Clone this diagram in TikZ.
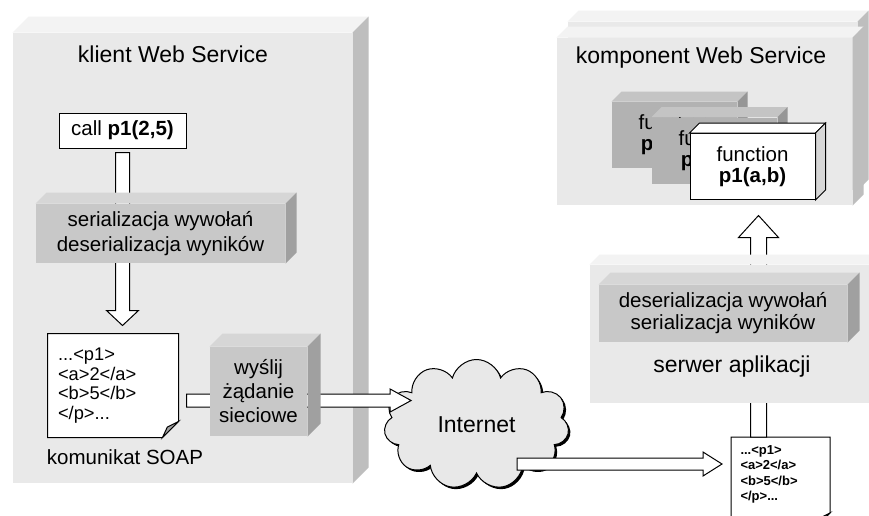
\documentclass[tikz,border=0pt]{standalone}
\usepackage{fontspec}
\setmainfont{Liberation Sans}
\usetikzlibrary{calc,shapes.symbols,shadows}
\definecolor{przod}{RGB}{233,233,233}
\definecolor{gora}{RGB}{243,243,243}
\definecolor{bok}{RGB}{190,190,190}
\definecolor{szary}{RGB}{200,200,200}
\definecolor{szaryGora}{RGB}{214,214,214}
\definecolor{szaryBok}{RGB}{160,160,160}
\definecolor{ciemny}{RGB}{178,178,178}
\definecolor{ciemnyGora}{RGB}{196,196,196}
\definecolor{ciemnyBok}{RGB}{150,150,150}
\definecolor{bialyBok}{RGB}{215,215,215}
\definecolor{chmurka}{RGB}{232,232,232}
% top and side face of a block drawn at node #1, depth #2
\newcommand\scianki[4]{%
  \path[#3] (#1.north west) -- ++(#2,-#2) -- ([shift={(#2,-#2)}]#1.north east) -- (#1.north east) -- cycle;
  \path[#4] (#1.north east) -- ++(#2,-#2) -- ([shift={(#2,-#2)}]#1.south east) -- (#1.south east) -- cycle;}
% block arrow from #1 to #2: half shaft, half head, head length
\newcommand\grubastrz[5]{%
  \coordinate (gs) at ($(#2)!#5pt!(#1)$);
  \filldraw[fill=white] ($(#1)!#3pt!90:(#2)$) -- ($(gs)!#3pt!90:(#2)$) -- ($(gs)!#4pt!90:(#2)$) -- (#2)
    -- ($(gs)!#4pt!-90:(#2)$) -- ($(gs)!#3pt!-90:(#2)$) -- ($(#1)!#3pt!-90:(#2)$) -- cycle;}
% page outline with folded corner
\newcommand\zagiecie[3]{%
  \fill[#3] ($(#1.south east)+(0,-#2)$) -- (#1.south east) -- ($(#1.south east)+(-#2,0)$) -- cycle;
  \draw (#1.north west) -- (#1.north east) -- ($(#1.south east)+(0,-#2)$) -- ($(#1.south east)+(-#2,0)$) -- (#1.south west) -- cycle;
  \filldraw[fill=szaryBok] ($(#1.south east)+(0,-#2)$) -- ($(#1.south east)+(-#2,0)$) -- ($(#1.south east)+(-0.7*#2,-0.65*#2)$) -- cycle;}
\begin{document}
\begin{tikzpicture}[x=1pt,y=-1pt,line width=1pt,
  duzy/.style={fill=przod, inner sep=0pt},
  szaryblok/.style={fill=szary, inner sep=0pt, align=center, font=\fontsize{20.5}{25}\selectfont},
  funblok/.style={fill=ciemny, inner sep=0pt, align=center, minimum width=125pt, minimum height=66pt, font=\fontsize{20.5}{21}\selectfont},
  tytul/.style={font=\fontsize{23}{27}\selectfont},
  napis/.style={font=\fontsize{20.5}{24}\selectfont},
  kartka/.style={fill=white, inner xsep=10pt, align=left}]
\clip (0,0) rectangle (869,515);
\fill[white] (0,0) rectangle (869,515);
% klient
\node[duzy, minimum width=339pt, minimum height=450pt] (klient) at (182.5,258) {};
\scianki{klient}{16}{fill=gora}{fill=bok}
\node[tytul] (klientT) at (173,54) {klient Web Service};
% komponent
\node[duzy, minimum width=289pt, minimum height=168pt] (komponentTyl) at (712.5,106) {};
\scianki{komponentTyl}{11}{fill=gora}{fill=bok}
\node[duzy, minimum width=295pt, minimum height=167pt] (komponent) at (704.5,121.5) {};
\scianki{komponent}{11}{fill=gora}{fill=bok}
\node[tytul] (komponentT) at (701,58) {komponent Web Service};
\node[funblok] (fun1) at (674.5,135) {function\\\textbf{p1(a,b)}};
\scianki{fun1}{10}{fill=ciemnyGora}{fill=ciemnyBok}
\node[funblok] (fun2) at (714.5,150.5) {function\\\textbf{p1(a,b)}};
\scianki{fun2}{10}{fill=ciemnyGora}{fill=ciemnyBok}
\node[funblok, fill=white, draw] (fun3) at (752.5,166.5) {function\\\textbf{p1(a,b)}};
\scianki{fun3}{10}{fill=white,draw}{fill=bialyBok,draw}
% serwer
\node[kartka, text width=80pt, inner xsep=9pt, minimum height=87pt, anchor=north west, font=\bfseries\fontsize{13}{15.5}\selectfont] (xml) at (731,437) {...<p1>\\<a>2</a>\\<b>5</b>\\</p>...\\\mbox{}};
\zagiecie{xml}{12}{white}
\coordinate (a4s) at ($(xml.north)+(-22,0)$);
\coordinate (a4k) at ($(a4s |- komponent.south)+(0,10)$);
\grubastrz{a4s}{a4k}{8}{20}{22}
\node[duzy, minimum width=290pt, minimum height=138pt] (serwer) at (735,334) {};
\scianki{serwer}{10}{fill=gora}{fill=bok}
\node[szaryblok, minimum width=248pt, minimum height=57pt, font=\fontsize{20.5}{22}\selectfont] (deser) at (723,313.5) {deserializacja wywołań\\serializacja wyników};
\scianki{deser}{12}{fill=szaryGora}{fill=szaryBok}
\node[tytul] (serwerT) at (732,367) {serwer aplikacji};
% klient: wywolanie i komunikat
\node[draw, fill=white, minimum width=127pt, minimum height=35pt, napis] (call) at (122.5,130.5) {call \textbf{p1(2,5)}};
\node[kartka, text width=110pt, minimum height=103pt, font=\fontsize{18.3}{19.7}\selectfont] (soap) at (113,385.5) {...<p1>\\<a>2</a>\\<b>5</b>\\</p>...};
\zagiecie{soap}{16}{przod}
\coordinate (a1s) at ($(call.south)+(0,4)$);
\coordinate (a1k) at ($(call.south |- soap.north)+(0,-8)$);
\grubastrz{a1s}{a1k}{7}{16}{15}
\node[szaryblok, minimum width=249pt, minimum height=59pt] (serial) at (160.5,233.5) {serializacja wywołań\\deserializacja wyników};
\scianki{serial}{11}{fill=szaryGora}{fill=szaryBok}
\node[napis] (soapT) at (125,457) {komunikat SOAP};
% internet
\node[cloud, cloud puffs=11, aspect=1.4, draw, fill=chmurka, drop shadow={shadow xshift=2pt, shadow yshift=-2pt, fill=black, opacity=1}, minimum width=185pt, minimum height=130pt, tytul] (chmura) at (476.5,424.5) {Internet};
\coordinate (a2s) at ($(soap.east)+(8,15)$);
\coordinate (a2k) at ($(a2s -| chmura.west)+(26,0)$);
\grubastrz{a2s}{a2k}{6.5}{11.5}{21}
\node[szaryblok, minimum width=97pt, minimum height=89pt, font=\fontsize{20.5}{24}\selectfont] (wyslij) at (258.5,391.5) {wyślij\\żądanie\\sieciowe};
\scianki{wyslij}{13}{fill=szaryGora}{fill=szaryBok}
\coordinate (a3s) at ($(chmura.center)+(40.5,39.5)$);
\coordinate (a3k) at ($(a3s -| xml.west)+(-9,0)$);
\grubastrz{a3s}{a3k}{6}{12}{19}
\end{tikzpicture}
\end{document}
